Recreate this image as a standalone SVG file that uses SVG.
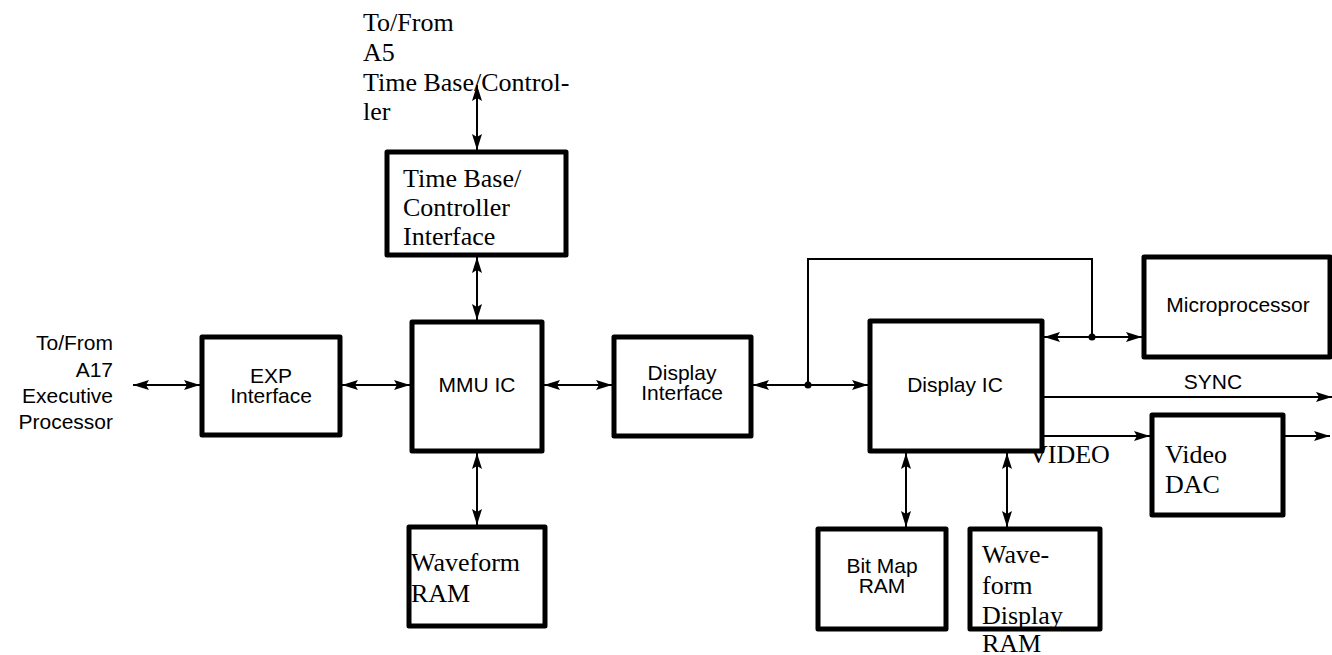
<svg xmlns="http://www.w3.org/2000/svg" width="1332" height="655" viewBox="0 0 1332 655">
<style>
.box{fill:#fff;stroke:#000;stroke-width:5;stroke-linejoin:round}
.ln{fill:none;stroke:#000;stroke-width:2}
.ar{fill:none;stroke:#000;stroke-width:2;marker-end:url(#ah)}
.ar2{fill:none;stroke:#000;stroke-width:2;marker-end:url(#ah);marker-start:url(#ah)}
.sans{font-family:"Liberation Sans",Arial,sans-serif;font-size:21px;fill:#000}
.serif{font-family:"Liberation Serif","Times New Roman",serif;font-size:26px;fill:#000}
.mid{text-anchor:middle}
.end{text-anchor:end}
</style>
<defs>
<marker id="ah" viewBox="0 0 16 10" refX="16" refY="5" markerWidth="16" markerHeight="10" markerUnits="userSpaceOnUse" orient="auto-start-reverse">
<path d="M0,0 L16,5 L0,10 L3,5 z" fill="#000"/>
</marker>
</defs>
<rect width="1332" height="655" fill="#fff"/>
<g id="connectors">
<line class="ar2" x1="477" y1="85" x2="477" y2="150"/>
<line class="ar2" x1="477" y1="257" x2="477" y2="320"/>
<line class="ar2" x1="133" y1="385" x2="200" y2="385"/>
<line class="ar2" x1="342" y1="385" x2="410" y2="385"/>
<line class="ar2" x1="544" y1="385" x2="612" y2="385"/>
<line class="ar2" x1="477" y1="453" x2="477" y2="525"/>
<line class="ar" x1="808" y1="385" x2="753" y2="385"/>
<line class="ar" x1="808" y1="385" x2="868" y2="385"/>
<polyline class="ln" points="808,385 808,259 1092,259 1092,337"/>
<line class="ar" x1="1092" y1="337" x2="1044" y2="337"/>
<line class="ar" x1="1092" y1="337" x2="1142" y2="337"/>
<circle cx="808" cy="385" r="3.5" fill="#000"/>
<circle cx="1092" cy="337" r="3.5" fill="#000"/>
<line class="ar" x1="1044" y1="397" x2="1332" y2="397"/>
<line class="ar" x1="1044" y1="436" x2="1150" y2="436"/>
<line class="ar" x1="1285" y1="436" x2="1330" y2="436"/>
<line class="ar2" x1="906" y1="453" x2="906" y2="527"/>
<line class="ar2" x1="1007" y1="453" x2="1007" y2="527"/>
<text class="sans mid" x="1213" y="389">SYNC</text>
<text class="serif" x="1029" y="463">VIDEO</text>
</g>
<g id="label-a5">
<text class="serif" x="363" y="31">To/From</text>
<text class="serif" x="363" y="61">A5</text>
<text class="serif" x="363" y="91">Time Base/Control-</text>
<text class="serif" x="363" y="120">ler</text>
</g>
<g id="label-a17">
<text class="sans end" x="113" y="350">To/From</text>
<text class="sans end" x="113" y="377">A17</text>
<text class="sans end" x="113" y="403">Executive</text>
<text class="sans end" x="113" y="429">Processor</text>
</g>
<g id="timebase">
<rect class="box" x="387" y="152" width="179" height="103"/>
<text class="serif" x="403" y="187">Time Base/</text>
<text class="serif" x="403" y="216">Controller</text>
<text class="serif" x="403" y="245">Interface</text>
</g>
<g id="exp">
<rect class="box" x="202" y="337" width="138" height="98"/>
<text class="sans mid" x="271" y="383">EXP</text>
<text class="sans mid" x="271" y="403">Interface</text>
</g>
<g id="mmu">
<rect class="box" x="412" y="322" width="130" height="129"/>
<text class="sans mid" x="477" y="392">MMU IC</text>
</g>
<g id="dispif">
<rect class="box" x="614" y="337" width="137" height="99"/>
<text class="sans mid" x="682" y="380">Display</text>
<text class="sans mid" x="682" y="400">Interface</text>
</g>
<g id="wfram">
<rect class="box" x="409" y="527" width="136" height="99"/>
<text class="serif" x="411" y="571">Waveform</text>
<text class="serif" x="411" y="602">RAM</text>
</g>
<g id="dispic">
<rect class="box" x="870" y="321" width="172" height="130"/>
<text class="sans mid" x="955" y="392">Display IC</text>
</g>
<g id="micro">
<rect class="box" x="1144" y="257" width="186" height="100"/>
<text class="sans mid" x="1238" y="312">Microprocessor</text>
</g>
<g id="dac">
<rect class="box" x="1152" y="415" width="131" height="100"/>
<text class="serif" x="1165" y="463">Video</text>
<text class="serif" x="1165" y="493">DAC</text>
</g>
<g id="bitmap">
<rect class="box" x="818" y="529" width="128" height="100"/>
<text class="sans mid" x="882" y="573">Bit Map</text>
<text class="sans mid" x="882" y="593">RAM</text>
</g>
<g id="wfdisp">
<rect class="box" x="970" y="529" width="130" height="100"/>
<text class="serif" x="982" y="563">Wave-</text>
<text class="serif" x="982" y="594">form</text>
<text class="serif" x="982" y="624">Display</text>
<text class="serif" x="982" y="652">RAM</text>
</g>
</svg>
